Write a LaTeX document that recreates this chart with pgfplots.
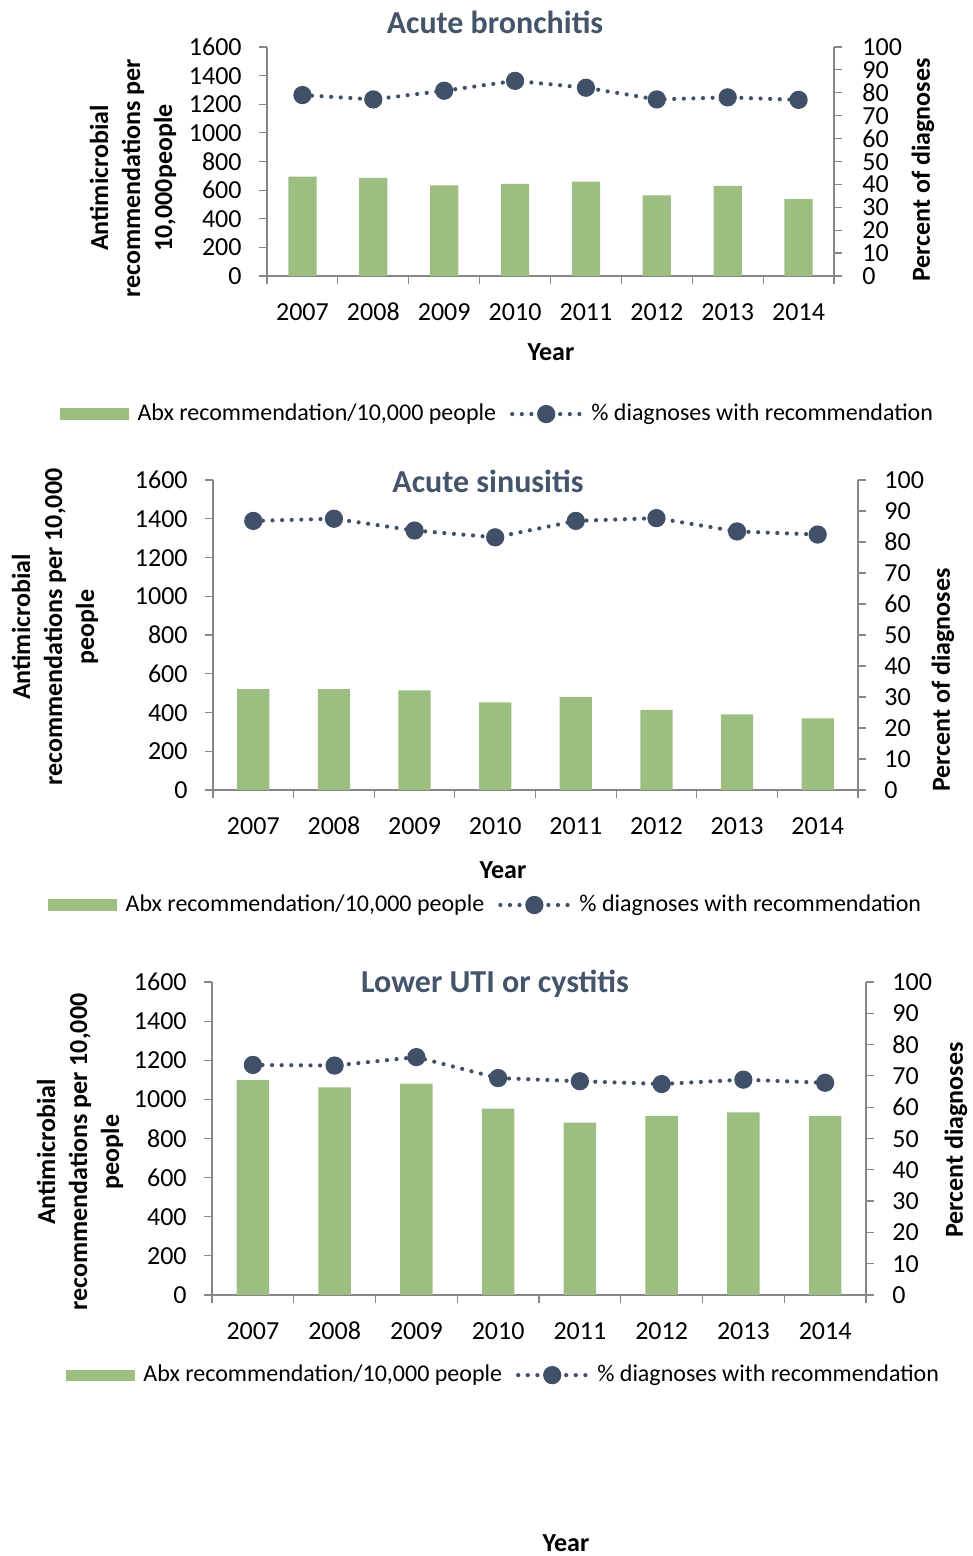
\documentclass[border=0pt]{standalone}
\usepackage{pgfplots}
\pgfplotsset{compat=1.18}
\usepackage{fontspec}
\setmainfont{Carlito}

\definecolor{barcol}{RGB}{156,190,128}
\definecolor{linecol}{RGB}{64,80,104}
\definecolor{titlecol}{RGB}{68,84,106}
\definecolor{axiscol}{RGB}{134,134,134}

\pgfplotsset{
  base/.style={scale only axis, xmin=-0.5, xmax=7.5, ymin=0,
    axis line style={axiscol, line width=0.6pt},
    tick style={axiscol, line width=0.6pt},
    tick align=outside, major tick length=4pt,
    tick label style={font=\fontsize{13}{13}\selectfont, inner sep=0.5pt,
      text height=8.6pt, text depth=0pt},
    /pgf/number format/assume math mode=true,
    /pgf/number format/1000 sep={}},
  barax/.style={base, ymax=1600, ytick={0,200,...,1600},
    axis y line*=left, axis x line*=bottom,
    xtick={-0.5,0.5,...,7.5}, x tick label as interval,
    xticklabels={2007,2008,2009,2010,2011,2012,2013,2014},
    xticklabel style={anchor=north, yshift=-9pt}, yticklabel style={xshift=-8pt}},
  lineax/.style={base, ymax=100, ytick={0,10,...,100},
    axis y line*=right, axis x line=none, clip=false,
    legend columns=2, legend cell align=left,
    legend style={draw=none, fill=none, anchor=center,
      font=\fontsize{12}{12}\selectfont,
      /tikz/every odd column/.append style={column sep=2.5pt},
      /tikz/every even column/.append style={column sep=5pt}}},
  barplot/.style={ybar, bar width=0.4, fill=barcol, draw=none},
  lineplot/.style={linecol, line width=2.1pt, line cap=round,
    dash pattern=on 0pt off 4.8pt, mark=*, mark size=3.5pt,
    mark options={solid, fill=linecol, draw=linecol}},
  barleg/.style={legend image code/.code={\fill[barcol] (0pt,-2.6pt) rectangle (34pt,2.6pt);}},
  lineleg/.style={legend image code/.code={\draw[mark repeat=2,mark phase=2,##1]
      plot coordinates {(0pt,0pt) (17pt,0pt) (34pt,0pt)};}},
}

\begin{document}
\begin{tikzpicture}
\useasboundingbox (0,0) rectangle (486.5pt,778pt);

% ---- Acute bronchitis
\begin{axis}[barax, at={(133.5pt,640pt)}, anchor=south west, width=283.5pt, height=114.5pt]
\addplot[barplot] coordinates {(0,694) (1,685) (2,633) (3,643) (4,660) (5,564) (6,629) (7,537)};
\end{axis}
\begin{axis}[lineax, at={(133.5pt,640pt)}, anchor=south west, width=283.5pt, height=114.5pt,
  yticklabel style={xshift=9.5pt}, legend style={at={(0.408,-0.603)}}]
\addlegendimage{barleg}
\addlegendentry{Abx recommendation/10,000 people}
\addplot[lineplot, lineleg] coordinates {(0,79.0) (1,77.1) (2,80.9) (3,85.2) (4,82.2) (5,77.1) (6,78.0) (7,76.9)};
\addlegendentry{\% diagnoses with recommendation}
\end{axis}
\node[font=\fontsize{16}{16}\selectfont\bfseries, text=titlecol] at (247.5pt,767pt) {Acute bronchitis};
\node[font=\fontsize{13}{16}\selectfont\bfseries, rotate=90, align=center] at (66.5pt,689pt)
  {Antimicrobial\\recommendations per\\10,000people};
\node[font=\fontsize{13}{16}\selectfont\bfseries, rotate=90] at (461.5pt,693pt) {Percent of diagnoses};
\node[font=\fontsize{13}{16}\selectfont\bfseries] at (275.5pt,602pt) {Year};

% ---- Acute sinusitis
\begin{axis}[barax, at={(106.5pt,383pt)}, anchor=south west, width=322.5pt, height=155pt]
\addplot[barplot] coordinates {(0,521) (1,521) (2,514) (3,452) (4,480) (5,413) (6,390) (7,370)};
\end{axis}
\begin{axis}[lineax, at={(106.5pt,383pt)}, anchor=south west, width=322.5pt, height=155pt,
  yticklabel style={xshift=8.5pt}, legend style={at={(0.424,-0.371)}}]
\addlegendimage{barleg}
\addlegendentry{Abx recommendation/10,000 people}
\addplot[lineplot, lineleg] coordinates {(0,86.8) (1,87.5) (2,83.7) (3,81.5) (4,86.8) (5,87.7) (6,83.4) (7,82.4)};
\addlegendentry{\% diagnoses with recommendation}
\end{axis}
\node[font=\fontsize{16}{16}\selectfont\bfseries, text=titlecol] at (244pt,537.5pt) {Acute sinusitis};
\node[font=\fontsize{13}{16}\selectfont\bfseries, rotate=90, align=center] at (27.5pt,464.5pt)
  {Antimicrobial\\recommendations per 10,000\\people};
\node[font=\fontsize{13}{16}\selectfont\bfseries, rotate=90] at (471.5pt,438pt) {Percent of diagnoses};
\node[font=\fontsize{13}{16}\selectfont\bfseries] at (251.5pt,343pt) {Year};

% ---- Lower UTI or cystitis
\begin{axis}[barax, at={(106pt,130.5pt)}, anchor=south west, width=327pt, height=156.5pt]
\addplot[barplot] coordinates {(0,1098) (1,1061) (2,1081) (3,953) (4,881) (5,915) (6,933) (7,915)};
\end{axis}
\begin{axis}[lineax, at={(106pt,130.5pt)}, anchor=south west, width=327pt, height=156.5pt,
  yticklabel style={xshift=8.5pt}, legend style={at={(0.447,-0.256)}}]
\addlegendimage{barleg}
\addlegendentry{Abx recommendation/10,000 people}
\addplot[lineplot, lineleg] coordinates {(0,73.5) (1,73.3) (2,76.0) (3,69.3) (4,68.3) (5,67.4) (6,68.8) (7,67.8)};
\addlegendentry{\% diagnoses with recommendation}
\end{axis}
\node[font=\fontsize{16}{16}\selectfont\bfseries, text=titlecol] at (247.5pt,286pt) {Lower UTI or cystitis};
\node[font=\fontsize{13}{16}\selectfont\bfseries, rotate=90, align=center] at (40pt,202pt)
  {Antimicrobial\\recommendations per 10,000\\people};
\node[font=\fontsize{13}{16}\selectfont\bfseries, rotate=90] at (478pt,208pt) {Percent diagnoses};
\node[font=\fontsize{13}{16}\selectfont\bfseries] at (283pt,6.5pt) {Year};
\end{tikzpicture}
\end{document}
